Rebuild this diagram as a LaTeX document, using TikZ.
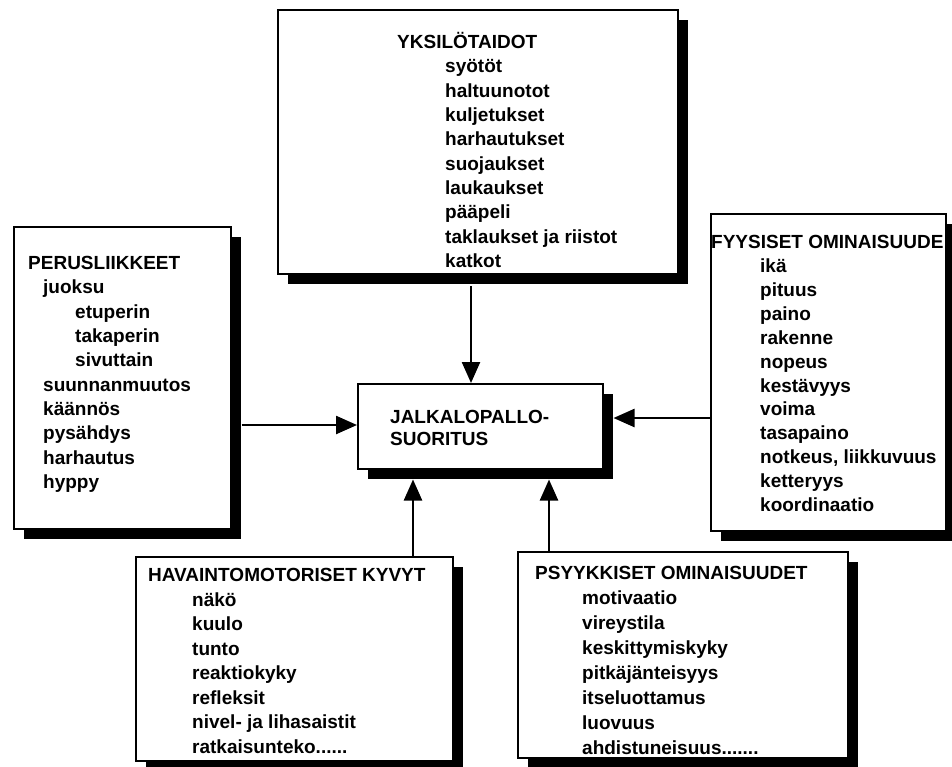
\documentclass[tikz,border=0pt]{standalone}
\usepackage{fontspec}
\setmainfont{Liberation Sans}
\usetikzlibrary{arrows.meta,shadows,calc}

% a block of lines whose first baseline is the block's baseline
\newcommand{\boxlines}[2]{{\fontsize{19}{#1}\selectfont\begin{tabular}[t]{@{}l@{}}#2\end{tabular}}}
\newcommand{\ind}[1]{\hspace*{#1pt}}

\begin{document}
\begin{tikzpicture}[x=1pt,y=-1pt,
  panel/.style={draw=black, fill=white, line width=2pt, anchor=north west,
    inner sep=0pt,
    drop shadow={shadow xshift=9.5pt, shadow yshift=-9.5pt, fill=black, opacity=1}},
  txt/.style={anchor=base west, inner sep=0pt, font=\bfseries},
  arr/.style={line width=2.4pt, -{Triangle[length=21pt,width=18pt]}}]

\useasboundingbox[fill=white] (0,0) rectangle (952,766);

% boxes
\node[panel, minimum width=400pt, minimum height=264pt] (yks)   at (277,9)   {};
\node[panel, minimum width=217pt, minimum height=302pt] (perus) at (13,226)  {};
\node[panel, minimum width=235pt, minimum height=317pt] (fyys)  at (710,213) {};
\node[panel, minimum width=245pt, minimum height=85pt]  (jalka) at (357,383) {};
\node[panel, minimum width=317pt, minimum height=204pt] (hav)   at (135,556) {};
\node[panel, minimum width=330pt, minimum height=206pt] (psy)   at (517,551) {};

% texts
\node[txt] (yks-t) at (397,48.6) {\boxlines{24.3}{YKSILÖTAIDOT\\
  \ind{48}syötöt\\ \ind{48}haltuunotot\\ \ind{48}kuljetukset\\ \ind{48}harhautukset\\
  \ind{48}suojaukset\\ \ind{48}laukaukset\\ \ind{48}pääpeli\\
  \ind{48}taklaukset ja riistot\\ \ind{48}katkot}};

\node[txt] (perus-t) at (28,269.6) {\boxlines{24.3}{PERUSLIIKKEET\\
  \ind{15}juoksu\\ \ind{47}etuperin\\ \ind{47}takaperin\\ \ind{47}sivuttain\\
  \ind{15}suunnanmuutos\\ \ind{15}käännös\\ \ind{15}pysähdys\\ \ind{15}harhautus\\
  \ind{15}hyppy}};

\node[txt] (fyys-t) at (711,248.6) {\boxlines{23.9}{FYYSISET OMINAISUUDE\\
  \ind{49}ikä\\ \ind{49}pituus\\ \ind{49}paino\\ \ind{49}rakenne\\ \ind{49}nopeus\\
  \ind{49}kestävyys\\ \ind{49}voima\\ \ind{49}tasapaino\\ \ind{49}notkeus, liikkuvuus\\
  \ind{49}ketteryys\\ \ind{49}koordinaatio}};

\node[txt] (jalka-t) at (390,423.5) {\boxlines{22}{JALKALOPALLO-\\SUORITUS}};

\node[txt] (hav-t) at (148,581.6) {\boxlines{24.5}{HAVAINTOMOTORISET KYVYT\\
  \ind{44}näkö\\ \ind{44}kuulo\\ \ind{44}tunto\\ \ind{44}reaktiokyky\\
  \ind{44}refleksit\\ \ind{44}nivel- ja lihasaistit\\ \ind{44}ratkaisunteko......}};

\node[txt] (psy-t) at (535,579.6) {\boxlines{25}{PSYYKKISET OMINAISUUDET\\
  \ind{47}motivaatio\\ \ind{47}vireystila\\ \ind{47}keskittymiskyky\\
  \ind{47}pitkäjänteisyys\\ \ind{47}itseluottamus\\ \ind{47}luovuus\\
  \ind{47}ahdistuneisuus.......}};

% connectors into the central box
\draw[arr] ([xshift=-7pt,yshift=-11pt]yks.south) -- ([xshift=-9.5pt]jalka.north);
\draw[arr] ($(perus.east |- jalka.west)+(9.5,-1.5)$) -- ($(jalka.west)+(0,-1.5)$);
\draw[arr] ($(fyys.west |- jalka.east)+(0,-8.5)$) -- ($(jalka.east)+(9.5,-8.5)$);
\draw[arr] ([xshift=118.5pt]hav.north) -- ([xshift=-67.5pt,yshift=-9.5pt]jalka.south);
\draw[arr] ([xshift=-134pt]psy.north) -- ([xshift=68.5pt,yshift=-9.5pt]jalka.south);

\end{tikzpicture}
\end{document}
